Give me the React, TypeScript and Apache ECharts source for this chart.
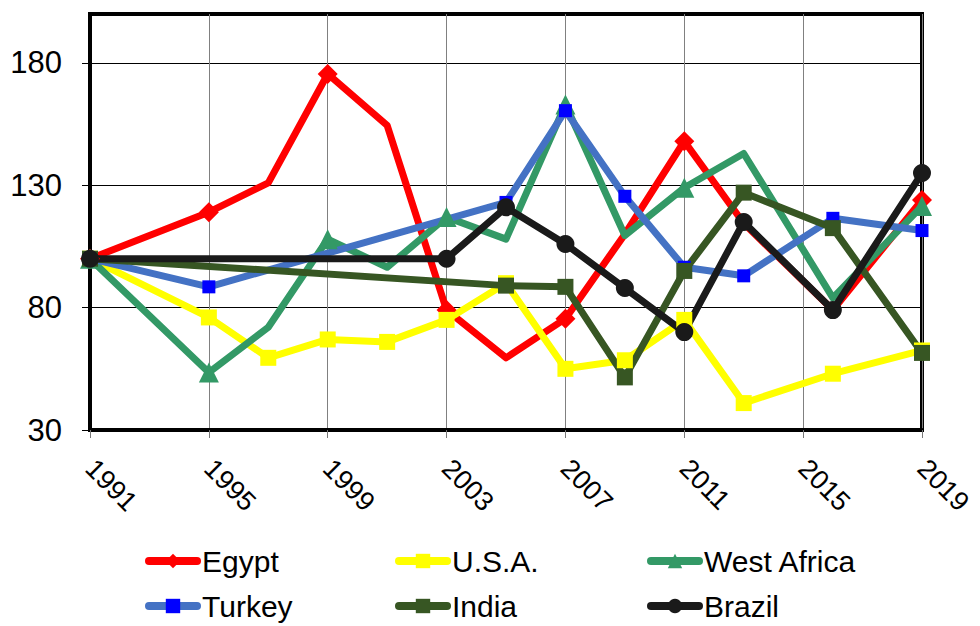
import React, { useEffect, useRef } from "react";
import * as echarts from "echarts";

const years: string[] = [];
for (let y = 1991; y <= 2019; y++) years.push(String(y));

const yTicks = [30, 80, 130, 180];

const egypt: [number, number][] = [
  [1991, 100], [1995, 119], [1997, 131], [1999, 175.5], [2001, 154.5], [2003, 79],
  [2005, 59.5], [2007, 75.5], [2009, 110], [2011, 148], [2013, 114.5], [2016, 79], [2019, 124],
];
const usa: [number, number][] = [
  [1991, 100], [1995, 76], [1997, 59.5], [1999, 67], [2001, 66], [2003, 75],
  [2005, 90], [2007, 55], [2009, 58.5], [2011, 75], [2013, 41], [2016, 53], [2019, 62.5],
];
const westAfrica: [number, number][] = [
  [1991, 100], [1995, 53.5], [1997, 72], [1999, 108], [2001, 96.5], [2003, 117],
  [2005, 108], [2007, 163], [2009, 109.5], [2011, 129], [2013, 143], [2016, 84], [2019, 121.5],
];
const turkey: [number, number][] = [
  [1991, 100], [1995, 88.5], [2005, 123], [2007, 160.5], [2009, 125.5], [2011, 96.5],
  [2013, 93], [2016, 116.5], [2019, 111.5],
];
const india: [number, number][] = [
  [1991, 100], [2005, 89], [2007, 88.5], [2009, 51.5], [2011, 95], [2013, 127],
  [2016, 112.5], [2019, 61.5],
];
const brazil: [number, number][] = [
  [1991, 100], [2003, 100], [2005, 121], [2007, 106], [2009, 88], [2011, 70],
  [2013, 115], [2016, 79], [2019, 135],
];

const toData = (arr: [number, number][]) => arr.map(([y, v]) => [years.indexOf(String(y)), v]);

const FONT = "'Liberation Sans', Arial, sans-serif";

export default function App() {
  const ref = useRef<HTMLDivElement>(null);
  useEffect(() => {
    document.body.style.margin = "0";
    const chart = echarts.init(ref.current!, null, { renderer: "svg" });
    const mk = (name: string, data: [number, number][], color: string, symbol: string, size: number, symColor?: string) => ({
      name,
      type: "line",
      data: toData(data),
      symbol,
      symbolSize: size,
      color: color,
      lineStyle: { width: 7, color, cap: "round", join: "round" },
      itemStyle: { color: symColor || color },
    });
    const legendPos = [
      { name: "Egypt", left: 145, top: 546 },
      { name: "U.S.A.", left: 395, top: 546 },
      { name: "West Africa", left: 647, top: 546 },
      { name: "Turkey", left: 145, top: 591 },
      { name: "India", left: 395, top: 591 },
      { name: "Brazil", left: 647, top: 591 },
    ];
    chart.setOption({
      animation: false,
      textStyle: { fontFamily: FONT },
      grid: {
        left: 90, right: 58, top: 14, bottom: 196,
        outerBoundsMode: "none",
        containLabel: false,
        show: true, borderColor: "#000", borderWidth: 4, backgroundColor: "#fff",
      },
      legend: legendPos.map((l) => ({
        data: [l.name],
        left: l.left,
        top: l.top,
        itemWidth: 48,
        itemHeight: 18,
        lineStyle: { width: 8, cap: "round" },
        textStyle: { fontSize: 30, color: "#000", fontFamily: FONT },
        padding: 0,
      })),
      xAxis: {
        type: "category",
        data: years,
        boundaryGap: false,
        axisLine: { show: true, lineStyle: { color: "#000", width: 4 } },
        axisTick: { show: true, interval: 3, length: 8, lineStyle: { color: "#777", width: 1 } },
        axisLabel: {
          interval: 3, rotate: -45, fontSize: 27, color: "#000", margin: 34,
          verticalAlign: "middle", fontFamily: FONT,
        },
        splitLine: { show: true, interval: 3, lineStyle: { color: "#808080", width: 1 } },
      },
      yAxis: {
        type: "value",
        min: 30,
        max: 200,
        axisLine: { show: true, lineStyle: { color: "#000", width: 4 } },
        axisTick: { show: true, length: 8, customValues: yTicks, lineStyle: { color: "#000", width: 1 } },
        axisLabel: { customValues: yTicks, fontSize: 31, color: "#000", margin: 28, fontFamily: FONT },
        splitLine: { show: true, lineStyle: { color: "#000", width: 1 } },
      },
      series: [
        mk("Egypt", egypt, "#FF0000", "diamond", 20),
        mk("U.S.A.", usa, "#FFFF00", "rect", 16),
        mk("West Africa", westAfrica, "#339966", "triangle", 20),
        mk("Turkey", turkey, "#4472C4", "rect", 13, "#0000FF"),
        mk("India", india, "#375623", "rect", 16),
        mk("Brazil", brazil, "#1A1A1A", "circle", 18),
      ],
    });
    return () => chart.dispose();
  }, []);
  return <div ref={ref} style={{ width: 980, height: 626 }} />;
}
